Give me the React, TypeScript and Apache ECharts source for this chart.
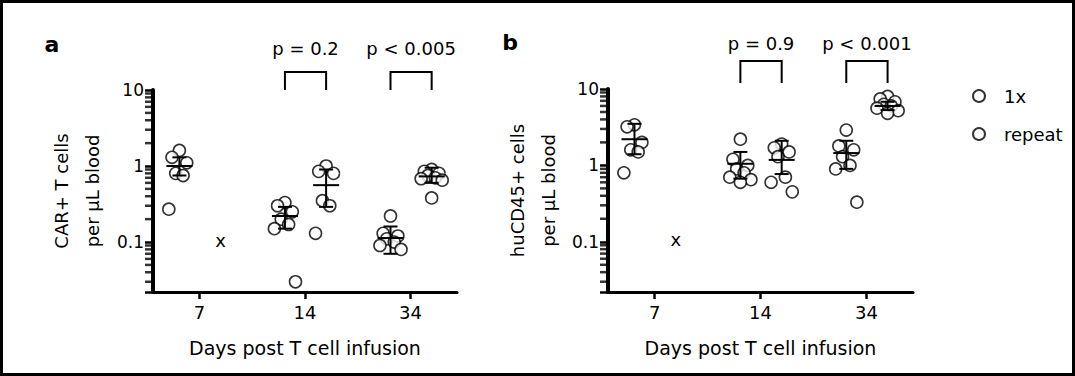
import { useEffect, useRef } from 'react';
import * as echarts from 'echarts';

// ---------- data ----------
const dayLabels = ['7', '14', '34'];
const dayPositions = [1, 2, 3];
const yMajorValues = [0.1, 1, 10];
const yMajorLabels = ['0.1', '1', '10'];
const yMinorValues = [
  0.03, 0.04, 0.05, 0.06, 0.07, 0.08, 0.09,
  0.2, 0.3, 0.4, 0.5, 0.6, 0.7, 0.8, 0.9,
  2, 3, 4, 5, 6, 7, 8, 9,
];

// Panel a: CAR+ T cells per µL blood (day 7, 14, 34)
const carOnce = [
  [1.6, 1.3, 1.1, 0.8, 0.75, 0.27],
  [0.33, 0.3, 0.25, 0.2, 0.17, 0.15, 0.03],
  [0.22, 0.13, 0.12, 0.11, 0.1, 0.09, 0.08],
];
const carRepeat = [
  [],
  [1.0, 0.85, 0.8, 0.35, 0.3, 0.13],
  [0.9, 0.85, 0.8, 0.75, 0.7, 0.68, 0.65, 0.38],
];
const carOnceMean = [1.0, 0.22, 0.113];
const carOnceLow = [0.75, 0.15, 0.07];
const carOnceHigh = [1.3, 0.29, 0.16];
const carRepeatMean = [null, 0.56, 0.73];
const carRepeatLow = [null, 0.29, 0.6];
const carRepeatHigh = [null, 0.9, 0.95];
const carPLabels = ['p = 0.2', 'p < 0.005'];

// Panel b: huCD45+ cells per µL blood
const huOnce = [
  [3.4, 3.2, 2.0, 1.6, 1.5, 0.8],
  [2.2, 1.2, 1.0, 0.9, 0.8, 0.7, 0.65, 0.6],
  [2.9, 1.8, 1.6, 1.3, 1.0, 0.9, 0.33],
];
const huRepeat = [
  [],
  [1.9, 1.7, 1.5, 1.3, 0.7, 0.6, 0.45],
  [8.0, 7.4, 6.8, 6.3, 6.0, 5.6, 5.2, 4.8],
];
const huOnceMean = [2.2, 1.05, 1.45];
const huOnceLow = [1.4, 0.67, 0.9];
const huOnceHigh = [3.5, 1.5, 2.1];
const huRepeatMean = [null, 1.18, 6.0];
const huRepeatLow = [null, 0.77, 5.3];
const huRepeatHigh = [null, 2.1, 6.8];
const huPLabels = ['p = 0.9', 'p < 0.001'];

// days without repeat-group data ("x" marker drawn at the 0.1 level)
const noDataDays = [1];
const noDataLevel = 0.1;
const comparedDays = [2, 3];

// ---------- layout / style ----------
const FONT = 'DejaVu Sans';
const X_MIN = 0.56;
const X_MAX = 3.44;
const ONCE_OFFSET = -0.19;
const REPEAT_OFFSET = 0.2;
const JITTER = [0, -0.07, 0.07, -0.035, 0.035, -0.1, 0.1, 0];

type PanelCfg = {
  once: number[][];
  repeat: number[][];
  onceMean: (number | null)[];
  onceLow: (number | null)[];
  onceHigh: (number | null)[];
  repeatMean: (number | null)[];
  repeatLow: (number | null)[];
  repeatHigh: (number | null)[];
  pLabels: string[];
  rise: number;
  drop: number;
  textGap: number;
};

const scatterData = (groups: number[][], offset: number) =>
  groups.flatMap((vals, g) =>
    vals.map((v, i) => [dayPositions[g] + offset + JITTER[i % JITTER.length], v])
  );

const errData = (
  mean: (number | null)[],
  low: (number | null)[],
  high: (number | null)[],
  offset: number
) =>
  dayPositions
    .map((d, g) => (mean[g] == null ? null : [d + offset, mean[g], low[g], high[g]]))
    .filter((r) => r !== null) as number[][];

const errRender = (params: any, api: any) => {
  const x = api.value(0);
  const pm = api.coord([x, api.value(1)]);
  const pl = api.coord([x, api.value(2)]);
  const ph = api.coord([x, api.value(3)]);
  const st = { stroke: '#000', lineWidth: 2 };
  return {
    type: 'group',
    children: [
      { type: 'line', shape: { x1: pm[0] - 13, y1: pm[1], x2: pm[0] + 13, y2: pm[1] }, style: st },
      { type: 'line', shape: { x1: pl[0], y1: pl[1], x2: ph[0], y2: ph[1] }, style: st },
      { type: 'line', shape: { x1: pl[0] - 7, y1: pl[1], x2: pl[0] + 7, y2: pl[1] }, style: st },
      { type: 'line', shape: { x1: ph[0] - 7, y1: ph[1], x2: ph[0] + 7, y2: ph[1] }, style: st },
    ],
  };
};

const noDataRender = (params: any, api: any) => {
  const c = api.coord([api.value(0), api.value(1)]);
  return {
    type: 'text',
    x: c[0],
    y: c[1] - 2,
    style: {
      text: 'x',
      fontSize: 18,
      fontFamily: FONT,
      fill: '#000',
      align: 'center',
      verticalAlign: 'middle',
    },
  };
};

const makeBracketRender = (cfg: PanelCfg) => (params: any, api: any) => {
  const L = api.coord([api.value(0), api.value(2)]);
  const R = api.coord([api.value(1), api.value(2)]);
  const top = L[1] - cfg.rise;
  const bot = L[1] - cfg.drop;
  const st = { stroke: '#000', lineWidth: 2, fill: 'none' };
  return {
    type: 'group',
    children: [
      {
        type: 'polyline',
        shape: { points: [[L[0], bot], [L[0], top], [R[0], top], [R[0], bot]] },
        style: st,
      },
      {
        type: 'text',
        x: (L[0] + R[0]) / 2,
        y: top - cfg.textGap,
        style: {
          text: cfg.pLabels[params.dataIndex],
          fontSize: 18,
          fontFamily: FONT,
          fill: '#000',
          align: 'center',
          verticalAlign: 'middle',
        },
      },
    ],
  };
};

const panels: PanelCfg[] = [
  {
    once: carOnce, repeat: carRepeat,
    onceMean: carOnceMean, onceLow: carOnceLow, onceHigh: carOnceHigh,
    repeatMean: carRepeatMean, repeatLow: carRepeatLow, repeatHigh: carRepeatHigh,
    pLabels: carPLabels, rise: 18, drop: 0, textGap: 24,
  },
  {
    once: huOnce, repeat: huRepeat,
    onceMean: huOnceMean, onceLow: huOnceLow, onceHigh: huOnceHigh,
    repeatMean: huRepeatMean, repeatLow: huRepeatLow, repeatHigh: huRepeatHigh,
    pLabels: huPLabels, rise: 28, drop: 6, textGap: 18,
  },
];

const yNames = ['CAR+ T cells\nper µL blood', 'huCD45+ cells\nper µL blood'];

const yLabelFormatter = (v: number) => {
  const k = yMajorValues.findIndex((t) => Math.abs(Math.log10(v) - Math.log10(t)) < 1e-6);
  return k >= 0 ? yMajorLabels[k] : '';
};

const markerStyle = { color: '#fff', borderColor: '#000', borderWidth: 1.6 };

function buildOption() {
  const series: any[] = [];
  panels.forEach((p, i) => {
    const ax = { xAxisIndex: i, yAxisIndex: i };
    series.push({
      type: 'scatter', name: 'minor ticks', ...ax, clip: false, silent: true,
      symbol: 'rect', symbolSize: [7, 2.5], symbolOffset: [-4.5, 0],
      itemStyle: { color: '#000' },
      data: yMinorValues.map((v) => [X_MIN, v]),
    });
    series.push({
      type: 'scatter', name: '1x', ...ax, symbol: 'circle', symbolSize: 12,
      itemStyle: markerStyle, data: scatterData(p.once, ONCE_OFFSET), z: 3,
    });
    series.push({
      type: 'scatter', name: 'repeat', ...ax, symbol: 'circle', symbolSize: 12,
      itemStyle: markerStyle, data: scatterData(p.repeat, REPEAT_OFFSET), z: 3,
    });
    series.push({
      type: 'custom', name: 'sem', ...ax, clip: false, z: 4,
      renderItem: errRender, encode: { x: 0, y: 1 },
      data: [
        ...errData(p.onceMean, p.onceLow, p.onceHigh, ONCE_OFFSET),
        ...errData(p.repeatMean, p.repeatLow, p.repeatHigh, REPEAT_OFFSET),
      ],
    });
    series.push({
      type: 'custom', name: 'none', ...ax, clip: false, z: 4,
      renderItem: noDataRender, encode: { x: 0, y: 1 },
      data: noDataDays.map((d) => [d + REPEAT_OFFSET, noDataLevel]),
    });
    series.push({
      type: 'custom', name: 'bracket', ...ax, clip: false, z: 4,
      renderItem: makeBracketRender(p), encode: { x: [0, 1], y: 2 },
      data: comparedDays.map((d) => [d + ONCE_OFFSET, d + REPEAT_OFFSET, yMajorValues[2]]),
    });
  });

  const grids = [
    { left: 153, top: 90, width: 304, height: 202 },
    { left: 608, top: 89, width: 305, height: 203 },
  ];
  const nameGaps = [45, 44];

  return {
    animation: false,
    backgroundColor: '#fff',
    textStyle: { fontFamily: FONT, color: '#000' },
    grid: grids,
    legend: {
      data: ['1x', 'repeat'],
      orient: 'vertical',
      left: 967,
      top: 82,
      itemWidth: 12,
      itemHeight: 12,
      itemGap: 20,
      selectedMode: false,
      textStyle: { fontSize: 18, fontFamily: FONT, color: '#000', padding: [0, 0, 0, 14] },
    },
    xAxis: grids.map((_, i) => ({
      type: 'value',
      gridIndex: i,
      min: X_MIN,
      max: X_MAX,
      splitLine: { show: false },
      axisLine: { lineStyle: { color: '#000', width: 3 } },
      axisTick: { customValues: dayPositions, length: 7, lineStyle: { color: '#000', width: 2.5 } },
      axisLabel: {
        customValues: dayPositions,
        formatter: (v: number) => dayLabels[Math.round(v) - 1],
        fontSize: 18,
        fontFamily: FONT,
        color: '#000',
        margin: 11,
      },
      name: 'Days post T cell infusion',
      nameLocation: 'middle',
      nameGap: 46,
      nameTextStyle: { fontSize: 19, fontFamily: FONT, color: '#000' },
    })),
    yAxis: grids.map((_, i) => ({
      type: 'log',
      logBase: 10,
      gridIndex: i,
      min: 0.022,
      max: 10,
      splitLine: { show: false },
      minorTick: { show: false },
      axisLine: { lineStyle: { color: '#000', width: 4 } },
      axisTick: { length: 8, lineStyle: { color: '#000', width: 2.5 } },
      axisLabel: {
        formatter: yLabelFormatter,
        fontSize: 17,
        fontFamily: FONT,
        color: '#000',
        margin: 9,
      },
      name: yNames[i],
      nameLocation: 'middle',
      nameGap: nameGaps[i],
      nameTextStyle: { fontSize: 18, fontFamily: FONT, color: '#000', lineHeight: 31 },
    })),
    graphic: [
      {
        type: 'rect',
        shape: { x: 1.5, y: 1.5, width: 1072, height: 373 },
        style: { fill: 'none', stroke: '#000', lineWidth: 3 },
        z: 10,
      },
      {
        type: 'text', x: 52, y: 44,
        style: { text: 'a', fontSize: 22, fontWeight: 'bold', fontFamily: FONT, fill: '#000', align: 'center', verticalAlign: 'middle' },
      },
      {
        type: 'text', x: 510, y: 42,
        style: { text: 'b', fontSize: 22, fontWeight: 'bold', fontFamily: FONT, fill: '#000', align: 'center', verticalAlign: 'middle' },
      },
    ],
    series,
  };
}

export default function App() {
  const ref = useRef<HTMLDivElement>(null);
  useEffect(() => {
    document.body.style.margin = '0';
    if (!ref.current) return;
    const chart = echarts.init(ref.current, undefined, { renderer: 'svg' });
    chart.setOption(buildOption() as any);
    return () => chart.dispose();
  }, []);
  return <div ref={ref} style={{ width: 1075, height: 376 }} />;
}
